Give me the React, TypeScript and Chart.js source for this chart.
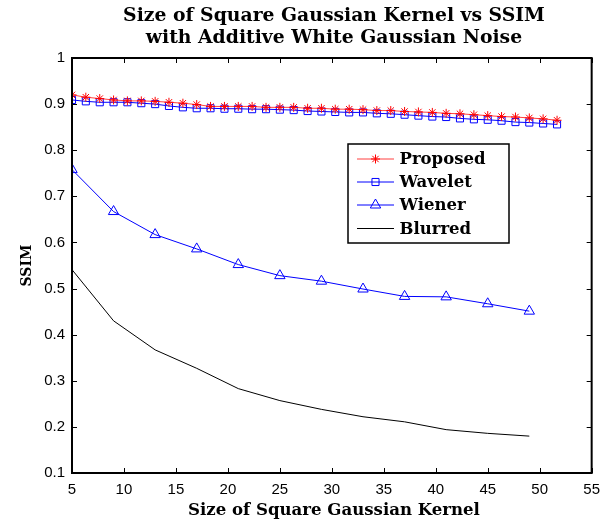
import React, { useEffect, useRef } from "react";
import { Chart, registerables } from "chart.js";

Chart.register(...registerables);

const titleLines = ["Size of Square Gaussian Kernel vs SSIM", "with Additive White Gaussian Noise"];
const xLabel = "Size of Square Gaussian Kernel";
const yLabel = "SSIM";
const seriesNames = ["Proposed", "Wavelet", "Wiener", "Blurred"];

const xTicks = [5, 10, 15, 20, 25, 30, 35, 40, 45, 50, 55];
const yTicks = [0.1, 0.2, 0.3, 0.4, 0.5, 0.6, 0.7, 0.8, 0.9, 1];

const denseX = [
  5, 6.33, 7.67, 9, 10.33, 11.67, 13, 14.33, 15.67, 17, 18.33, 19.67,
  21, 22.33, 23.67, 25, 26.33, 27.67, 29, 30.33, 31.67, 33, 34.33, 35.67,
  37, 38.33, 39.67, 41, 42.33, 43.67, 45, 46.33, 47.67, 49, 50.33, 51.67,
];
const proposedY = [
  0.92, 0.915, 0.912, 0.909, 0.907, 0.907, 0.906, 0.904, 0.902, 0.899, 0.895, 0.895,
  0.895, 0.895, 0.893, 0.893, 0.893, 0.891, 0.891, 0.889, 0.889, 0.888, 0.886, 0.886,
  0.884, 0.883, 0.882, 0.88, 0.879, 0.877, 0.875, 0.873, 0.872, 0.87, 0.868, 0.865,
];
const waveletY = [
  0.909, 0.906, 0.904, 0.904, 0.904, 0.902, 0.9, 0.896, 0.893, 0.891, 0.891, 0.89,
  0.89, 0.889, 0.889, 0.888, 0.887, 0.885, 0.884, 0.883, 0.882, 0.882, 0.88, 0.879,
  0.877, 0.875, 0.873, 0.872, 0.869, 0.867, 0.866, 0.864, 0.861, 0.86, 0.858, 0.856,
];
const sparseX = [5, 9, 13, 17, 21, 25, 29, 33, 37, 41, 45, 49];
const wienerY = [0.758, 0.667, 0.617, 0.586, 0.552, 0.528, 0.516, 0.499, 0.483, 0.482, 0.467, 0.451];
const blurredY = [0.541, 0.43, 0.367, 0.327, 0.283, 0.257, 0.238, 0.222, 0.211, 0.194, 0.186, 0.18];

const SERIF = "'DejaVu Serif', 'Liberation Serif', serif";
const SANS = "'Liberation Sans', Arial, sans-serif";

function fitFont(ctx: CanvasRenderingContext2D, text: string, target: number, family: string) {
  ctx.font = `bold 20px ${family}`;
  const w = ctx.measureText(text).width;
  const size = (20 * target) / w;
  return `bold ${size.toFixed(2)}px ${family}`;
}

const pts = (xs: number[], ys: number[]) => xs.map((x, i) => ({ x, y: ys[i] }));

function drawMarker(ctx: CanvasRenderingContext2D, style: string, r: number, x: number, y: number) {
  ctx.beginPath();
  if (style === "star") {
    for (let k = 0; k < 4; k++) {
      const ang = (k * Math.PI) / 4;
      ctx.moveTo(x - r * Math.cos(ang), y - r * Math.sin(ang));
      ctx.lineTo(x + r * Math.cos(ang), y + r * Math.sin(ang));
    }
  } else if (style === "rect") {
    const s = Math.SQRT1_2 * r;
    ctx.rect(x - s, y - s, 2 * s, 2 * s);
  } else if (style === "triangle") {
    const ang = (2 * Math.PI) / 3;
    ctx.moveTo(x, y - r);
    ctx.lineTo(x + Math.sin(ang) * r, y - Math.cos(ang) * r);
    ctx.lineTo(x - Math.sin(ang) * r, y - Math.cos(ang) * r);
    ctx.closePath();
  }
  ctx.stroke();
}

const decorPlugin = {
  id: "decor",
  afterDatasetsDraw(chart: any) {
    const { ctx, chartArea: a, scales } = chart;
    ctx.save();
    ctx.strokeStyle = "#000";
    ctx.lineWidth = 1;
    ctx.beginPath();
    const tl = 5;
    xTicks.forEach((v) => {
      const px = Math.round(scales.x.getPixelForValue(v)) + 0.5;
      ctx.moveTo(px, a.bottom);
      ctx.lineTo(px, a.bottom - tl);
      ctx.moveTo(px, a.top);
      ctx.lineTo(px, a.top + tl);
    });
    yTicks.forEach((v) => {
      const py = Math.round(scales.y.getPixelForValue(v)) + 0.5;
      ctx.moveTo(a.left, py);
      ctx.lineTo(a.left + tl, py);
      ctx.moveTo(a.right, py);
      ctx.lineTo(a.right - tl, py);
    });
    ctx.stroke();
    ctx.lineWidth = 2;
    ctx.strokeRect(a.left, a.top, a.right - a.left, a.bottom - a.top);
    ctx.restore();
  },
  afterDraw(chart: any) {
    const { ctx, chartArea: a } = chart;
    ctx.save();
    ctx.fillStyle = "#000";
    ctx.textAlign = "center";
    ctx.textBaseline = "middle";
    const cx = 334;
    ctx.font = fitFont(ctx, titleLines[0], 422, SERIF);
    ctx.fillText(titleLines[0], cx, 16);
    ctx.fillText(titleLines[1], cx, 38);
    ctx.font = fitFont(ctx, xLabel, 292, SERIF);
    ctx.fillText(xLabel, cx, 511);
    ctx.save();
    ctx.translate(27, (a.top + a.bottom) / 2);
    ctx.rotate(-Math.PI / 2);
    ctx.font = fitFont(ctx, yLabel, 42, SERIF);
    ctx.fillText(yLabel, 0, 0);
    ctx.restore();

    // legend
    const bx = 348, by = 144, bw = 161, bh = 99;
    ctx.fillStyle = "#fff";
    ctx.fillRect(bx, by, bw, bh);
    ctx.strokeStyle = "#000";
    ctx.lineWidth = 1.5;
    ctx.strokeRect(bx, by, bw, bh);
    const legendFont = fitFont(ctx, "Proposed", 86, SERIF);
    const rowY = [159, 182, 205, 228.5];
    chart.data.datasets.forEach((ds: any, i: number) => {
      const y = rowY[i];
      ctx.strokeStyle = ds.borderColor;
      ctx.lineWidth = ds.borderWidth;
      ctx.beginPath();
      ctx.moveTo(357, y);
      ctx.lineTo(394, y);
      ctx.stroke();
      if (ds.pointRadius > 0) {
        ctx.strokeStyle = ds.pointBorderColor;
        ctx.lineWidth = ds.pointBorderWidth;
        drawMarker(ctx, ds.pointStyle, ds.pointRadius, 375.5, y);
      }
      ctx.fillStyle = "#000";
      ctx.font = legendFont;
      ctx.textAlign = "left";
      ctx.textBaseline = "middle";
      ctx.fillText(ds.label, 399.5, y + 1);
    });
    ctx.restore();
  },
};

export default function App() {
  const ref = useRef<HTMLCanvasElement | null>(null);
  useEffect(() => {
    document.body.style.margin = "0";
    const canvas = ref.current;
    if (!canvas) return;
    const chart = new Chart(canvas, {
      type: "line",
      data: {
        datasets: [
          {
            label: seriesNames[0],
            data: pts(denseX, proposedY),
            borderColor: "#ff4040",
            borderWidth: 1,
            pointStyle: "star",
            pointRadius: 4.5,
            pointBorderColor: "#ff0000",
            pointBackgroundColor: "rgba(0,0,0,0)",
            pointBorderWidth: 1,
          },
          {
            label: seriesNames[1],
            data: pts(denseX, waveletY),
            borderColor: "#0000ff",
            borderWidth: 1,
            pointStyle: "rect",
            pointRadius: 5,
            pointBorderColor: "#0000ff",
            pointBackgroundColor: "rgba(0,0,0,0)",
            pointBorderWidth: 1,
          },
          {
            label: seriesNames[2],
            data: pts(sparseX, wienerY),
            borderColor: "#0000ff",
            borderWidth: 1,
            pointStyle: "triangle",
            pointRadius: 6,
            pointBorderColor: "#0000ff",
            pointBackgroundColor: "rgba(0,0,0,0)",
            pointBorderWidth: 1,
          },
          {
            label: seriesNames[3],
            data: pts(sparseX, blurredY),
            borderColor: "#000000",
            borderWidth: 1,
            pointRadius: 0,
            pointBorderWidth: 0,
          },
        ],
      },
      options: {
        animation: false,
        responsive: false,
        devicePixelRatio: 1,
        layout: { padding: { top: 58, right: 10, left: 0, bottom: 0 } },
        plugins: { legend: { display: false }, title: { display: false }, tooltip: { enabled: false } },
        elements: { line: { tension: 0 } },
        scales: {
          x: {
            type: "linear",
            min: 5,
            max: 55,
            afterBuildTicks: (s: any) => {
              s.ticks = xTicks.map((v) => ({ value: v }));
            },
            afterFit: (s: any) => {
              s.height = 54;
            },
            grid: { display: false, drawTicks: false },
            border: { display: false },
            ticks: {
              padding: 8,
              color: "#000",
              font: { family: SANS, size: 15 },
              maxRotation: 0,
              callback: (v: any) => String(v),
            },
          },
          y: {
            type: "linear",
            min: 0.1,
            max: 1,
            afterBuildTicks: (s: any) => {
              s.ticks = yTicks.map((v) => ({ value: v }));
            },
            afterFit: (s: any) => {
              s.width = 72;
            },
            grid: { display: false, drawTicks: false },
            border: { display: false },
            ticks: {
              padding: 7,
              color: "#000",
              font: { family: SANS, size: 15 },
              callback: (v: any) => String(Number(Number(v).toFixed(1))),
            },
          },
        },
      },
      plugins: [decorPlugin],
    } as any);
    return () => chart.destroy();
  }, []);
  return (
    <div style={{ position: "absolute", left: 0, top: 0, width: 608, height: 527, background: "#fff" }}>
      <canvas ref={ref} width={608} height={527} />
    </div>
  );
}
